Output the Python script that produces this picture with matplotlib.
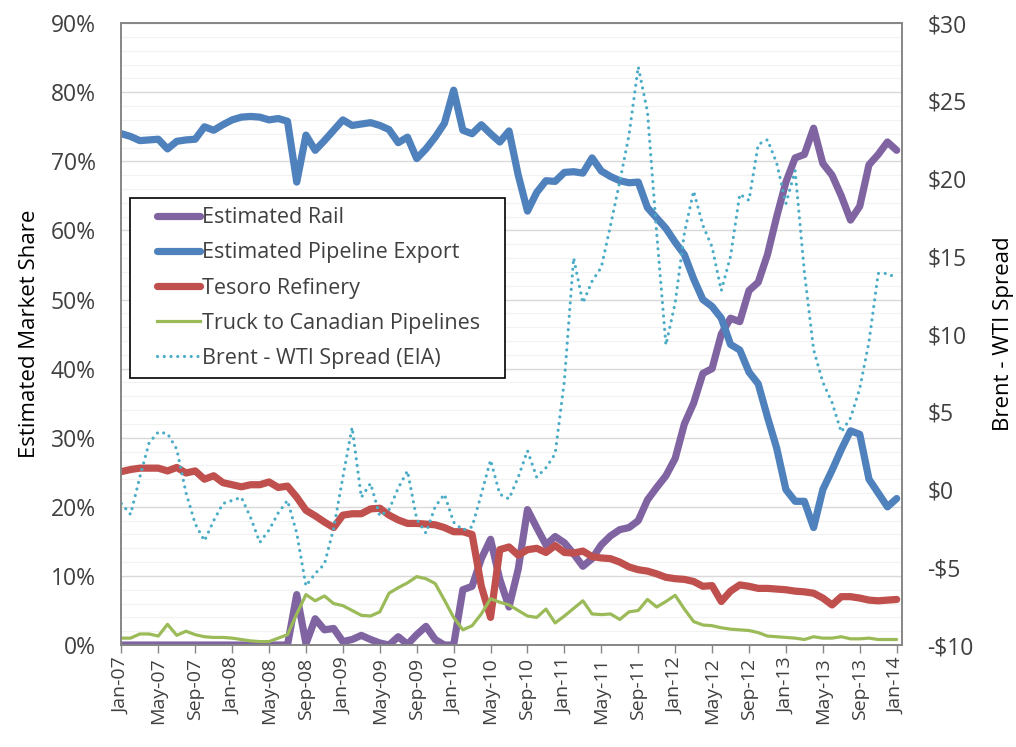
import matplotlib
matplotlib.use("Agg")
import matplotlib.pyplot as plt
import numpy as np
from matplotlib.legend_handler import HandlerLine2D
from matplotlib.lines import Line2D
from matplotlib.ticker import FuncFormatter, MultipleLocator

plt.rcParams["font.family"] = ["Open Sans", "DejaVu Sans"]

# monthly, Jan-07 .. Jan-14 (index 0..84)
TICK_LABELS = [
    "Jan-07", "May-07", "Sep-07", "Jan-08", "May-08", "Sep-08", "Jan-09", "May-09",
    "Sep-09", "Jan-10", "May-10", "Sep-10", "Jan-11", "May-11", "Sep-11", "Jan-12",
    "May-12", "Sep-12", "Jan-13", "May-13", "Sep-13", "Jan-14",
]

rail = [
    0, 0, 0, 0, 0, 0, 0, 0, 0, 0, 0, 0, 0, 0, 0, 0, 0, 0, 0, 7.3,
    0.2, 3.8, 2.2, 2.4, 0.5, 0.8, 1.4, 0.8, 0.3, 0.0, 1.2, 0.1, 1.5, 2.7, 0.8, 0.0,
    0.0, 8.0, 8.5, 12.5, 15.3, 9.5, 5.5, 11.0, 19.6, 17.0, 14.5, 15.7, 14.8, 13.2, 11.4, 12.5,
    14.5, 15.8, 16.7, 17.0, 18.0, 21.0, 22.8, 24.5, 27.0, 32.0, 35.0, 39.3, 40.0, 45.0, 47.3, 46.8,
    51.3, 52.5, 56.5, 62.0, 67.0, 70.5, 71.0, 74.8, 69.7, 68.0, 65.0, 61.5, 63.5, 69.5, 71.0, 72.8,
    71.6,
]

pipeline = [
    74.0, 73.6, 73.0, 73.1, 73.2, 71.8, 72.9, 73.1, 73.2, 75.0, 74.5, 75.3, 76.0, 76.4, 76.5, 76.4,
    76.0, 76.2, 75.8, 67.0, 73.8, 71.6, 73.0, 74.5, 76.0, 75.2, 75.4, 75.6, 75.2, 74.6, 72.7, 73.5,
    70.4, 71.8, 73.5, 75.5, 80.3, 74.5, 74.0, 75.3, 74.0, 72.8, 74.4, 68.0, 62.8, 65.5, 67.2, 67.1,
    68.4, 68.5, 68.3, 70.5, 68.6, 67.8, 67.2, 66.9, 67.0, 63.3, 61.8, 60.3, 58.3, 56.5, 53.0, 50.0,
    49.0, 47.3, 43.5, 42.7, 39.5, 37.8, 33.0, 28.5, 22.5, 20.8, 20.8, 17.0, 22.5, 25.3, 28.3, 31.0,
    30.5, 24.0, 22.0, 20.0, 21.2,
]

refinery = [
    25.1, 25.4, 25.6, 25.6, 25.6, 25.2, 25.7, 24.9, 25.2, 24.0, 24.5, 23.5, 23.2, 22.9, 23.2, 23.2,
    23.6, 22.8, 23.0, 21.4, 19.5, 18.7, 17.8, 17.0, 18.8, 19.0, 19.0, 19.7, 19.8, 18.8, 18.1, 17.6,
    17.6, 17.5, 17.4, 17.0, 16.4, 16.4, 16.0, 8.5, 4.0, 13.8, 14.2, 13.0, 13.8, 14.0, 13.4, 14.4,
    13.4, 13.3, 13.6, 12.8, 12.6, 12.5, 12.0, 11.3, 10.9, 10.7, 10.3, 9.8, 9.6, 9.5, 9.2, 8.5,
    8.6, 6.3, 7.8, 8.7, 8.5, 8.2, 8.2, 8.1, 8.0, 7.8, 7.7, 7.5, 6.8, 5.8, 7.0, 7.0,
    6.8, 6.5, 6.4, 6.5, 6.6,
]

truck = [
    1.0, 1.0, 1.6, 1.6, 1.3, 3.0, 1.4, 2.0, 1.5, 1.2, 1.1, 1.1, 1.0, 0.8, 0.6, 0.5,
    0.5, 1.0, 1.5, 4.5, 7.3, 6.4, 7.1, 6.0, 5.7, 5.0, 4.3, 4.2, 4.8, 7.5, 8.3, 9.0,
    9.9, 9.6, 8.9, 6.5, 4.0, 2.2, 2.8, 4.5, 6.7, 6.2, 5.8, 5.0, 4.2, 4.0, 5.2, 3.2,
    4.2, 5.3, 6.4, 4.5, 4.4, 4.5, 3.7, 4.8, 5.0, 6.6, 5.5, 6.3, 7.2, 5.2, 3.4, 2.9,
    2.8, 2.5, 2.3, 2.2, 2.1, 1.8, 1.3, 1.2, 1.1, 1.0, 0.8, 1.2, 1.0, 1.0, 1.2, 0.9,
    0.9, 1.0, 0.8, 0.8, 0.8,
]

# Brent - WTI spread, $/bbl (right axis)
spread = [
    -0.9, -1.6, 0.8, 3.0, 3.7, 3.6, 2.6, -0.2, -2.2, -3.3, -2.0, -0.9, -0.7, -0.5, -1.8, -3.4,
    -2.6, -1.5, -0.7, -2.8, -6.2, -5.4, -4.8, -2.5, 0.8, 4.0, -0.5, 0.4, -1.7, -1.3, 0.1, 1.2,
    -1.9, -2.8, -1.1, -0.3, -2.1, -2.6, -2.4, -0.3, 1.9, -0.3, -0.6, 0.8, 2.5, 0.8, 1.4, 2.3,
    7.0, 14.9, 12.0, 13.4, 14.3, 17.0, 19.8, 22.8, 27.2, 24.3, 16.5, 9.3, 12.0, 16.5, 19.2, 17.0,
    15.6, 12.8, 15.0, 19.0, 18.6, 22.2, 22.5, 21.0, 18.4, 20.5, 14.0, 9.0, 6.9, 5.6, 3.7, 4.6,
    6.5, 9.5, 13.9, 13.9, 13.6,
]

SERIES_NAMES = [
    "Estimated Rail",
    "Estimated Pipeline Export",
    "Tesoro Refinery",
    "Truck to Canadian Pipelines",
    "Brent - WTI Spread (EIA)",
]

DOTS = (0, (0.01, 2.1))


class InsetLine(HandlerLine2D):
    """Legend line drawn only over the right part of the handle box."""

    def get_xdata(self, legend, xdescent, ydescent, width, height, fontsize):
        x0 = -xdescent + 0.3 * width
        x1 = -xdescent + width
        return np.array([x0, x1]), np.array([x0, x1])


months = list(range(len(pipeline)))

fig = plt.figure(figsize=(10.16, 7.47), dpi=100)
ax = fig.add_axes([0.119, 0.1365, 0.769, 0.8325])
ax2 = ax.twinx()

thick = dict(linewidth=5.2, solid_capstyle="round", solid_joinstyle="round")
ax.plot(months, rail, color="#8064A2", **thick)
ax.plot(months, pipeline, color="#4F81BD", **thick)
ax.plot(months, refinery, color="#C0504D", **thick)
ax.plot(months, truck, color="#9BBB59", linewidth=2.3, solid_capstyle="round", solid_joinstyle="round")
ax2.plot(months, spread, color="#4BACC6", linewidth=2.3, linestyle=DOTS, dash_capstyle="round")

ax.set_xlim(-0.05, 84.6)
ax.set_ylim(0, 90)
ax2.set_ylim(-10, 30)

ax.set_xticks(months[::4])
ax.set_xticklabels(TICK_LABELS, rotation=90, fontsize=14, color="#404040")
ax.yaxis.set_major_locator(MultipleLocator(10))
ax.yaxis.set_minor_locator(MultipleLocator(2))
ax.yaxis.set_major_formatter(FuncFormatter(lambda v, _: f"{v:.0f}%"))
ax2.yaxis.set_major_locator(MultipleLocator(5))
ax2.yaxis.set_major_formatter(FuncFormatter(lambda v, _: f"-${-v:.0f}" if v < 0 else f"${v:.0f}"))

ax.tick_params(axis="y", which="both", length=0, labelsize=16.5, labelcolor="#404040", pad=18)
ax2.tick_params(axis="y", length=0, labelsize=16.5, labelcolor="#404040", pad=18)
ax.tick_params(axis="x", length=6, width=1, color="#868686", pad=3)

ax.grid(True, axis="y", which="major", color="#d9d9d9", linewidth=1.0)
ax.grid(True, axis="y", which="minor", color="#f2f2f2", linewidth=0.9)
ax.set_axisbelow(True)

for a in (ax, ax2):
    for side in a.spines.values():
        side.set_color("#868686")
        side.set_linewidth(1.2)

ax.set_ylabel("Estimated Market Share", fontsize=16, color="black", labelpad=8)
ax2.set_ylabel("Brent - WTI Spread", fontsize=16, color="black", labelpad=14)

handles = [
    Line2D([], [], color="#8064A2", linewidth=5.2, solid_capstyle="round"),
    Line2D([], [], color="#4F81BD", linewidth=5.2, solid_capstyle="round"),
    Line2D([], [], color="#C0504D", linewidth=5.2, solid_capstyle="round"),
    Line2D([], [], color="#9BBB59", linewidth=2.3),
    Line2D([], [], color="#4BACC6", linewidth=2.3, linestyle=DOTS, dash_capstyle="round"),
]
leg = ax2.legend(
    handles, SERIES_NAMES,
    loc="upper left", bbox_to_anchor=(0.0115, 0.424, 0.480, 0.2946), mode="expand",
    fontsize=15.5, frameon=True, fancybox=False, edgecolor="black", framealpha=1,
    borderaxespad=0, borderpad=0.42, labelspacing=0.66, handlelength=2.85, handletextpad=0.1,
    handler_map={Line2D: InsetLine()},
)
leg.get_frame().set_linewidth(1.2)
for t in leg.get_texts():
    t.set_color("#404040")

fig.savefig("out.png", dpi=100)
